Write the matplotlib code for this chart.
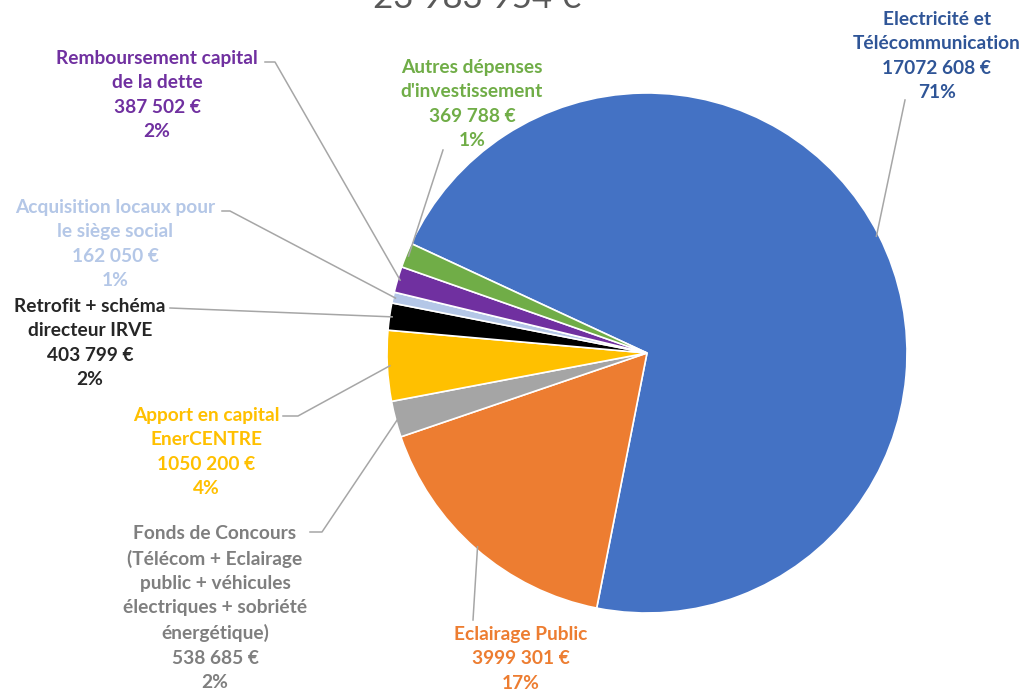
import matplotlib
matplotlib.use("Agg")
import matplotlib.pyplot as plt
import numpy as np

categories = ["Electricité et\nTélécommunication", "Eclairage Public",
              "Fonds de Concours\n(Télécom + Eclairage\npublic + véhicules\nélectriques + sobriété\nénergétique)",
              "Apport en capital\nEnerCENTRE", "Retrofit + schéma\ndirecteur IRVE",
              "Acquisition locaux pour\nle siège social", "Remboursement capital\nde la dette",
              "Autres dépenses\nd'investissement"]
values = [17072608, 3999301, 538685, 1050200, 403799, 162050, 387502, 369788]
value_labels = ["17072 608 €", "3999 301 €", "538 685 €", "1050 200 €", "403 799 €",
                "162 050 €", "387 502 €", "369 788 €"]
pct_labels = ["71%", "17%", "2%", "4%", "2%", "1%", "2%", "1%"]
title_text = "= 23 983 954 €"

colors = ["#4472C4", "#ED7D31", "#A5A5A5", "#FFC000", "#000000", "#B4C7E7", "#7030A0", "#70AD47"]
text_colors = ["#2F5597", "#ED7D31", "#7F7F7F", "#FFC000", "#262626", "#B4C7E7", "#7030A0", "#70AD47"]

# label layout (image pixel coords: text center x, center y, elbow points)
label_pos = [(937, 56), (521, 659), (215, 608), (206, 452), (90, 343), (115, 244), (157, 95), (472, 104)]
elbows = [[(905, 100)], [(473, 620)], [(310, 532), (322, 532)], [(283, 416), (298, 416)],
          [(170, 308)], [(222, 211), (230, 211)], [(265, 62), (275, 62)], [(443, 150)]]

W, H = 1024, 693
fig = plt.figure(figsize=(W / 100, H / 100), dpi=100)
ax = fig.add_axes([0, 0, 1, 1])

cx, cy, R = 647, H - 353, 260
start = 155.1
wedges, _ = ax.pie(values, colors=colors, startangle=start, counterclock=False,
                   center=(cx, cy), radius=R, frame=True,
                   wedgeprops=dict(edgecolor="white", linewidth=1.2))
ax.set_xlim(0, W)
ax.set_ylim(0, H)
ax.set_aspect("equal")
ax.axis("off")

font = "Lato"
for i, w in enumerate(wedges):
    mid = np.deg2rad((w.theta1 + w.theta2) / 2)
    ax_pt = (cx + R * 0.99 * np.cos(mid), cy + R * 0.99 * np.sin(mid))
    pts = [(x, H - y) for (x, y) in elbows[i]] + [ax_pt]
    xs, ys = zip(*pts)
    ax.plot(xs, ys, color="#A6A6A6", lw=1.1, zorder=1)
    tx, ty = label_pos[i]
    txt = categories[i] + "\n" + value_labels[i] + "\n" + pct_labels[i]
    ax.text(tx, H - ty, txt, ha="center", va="center", color=text_colors[i],
            fontsize=13.8, fontweight="bold", family=font, linespacing=1.52)

ax.text(463, H - 14, title_text, ha="center", va="bottom", color="#595959",
        fontsize=25, family=font)

fig.savefig("out.png", dpi=100)
